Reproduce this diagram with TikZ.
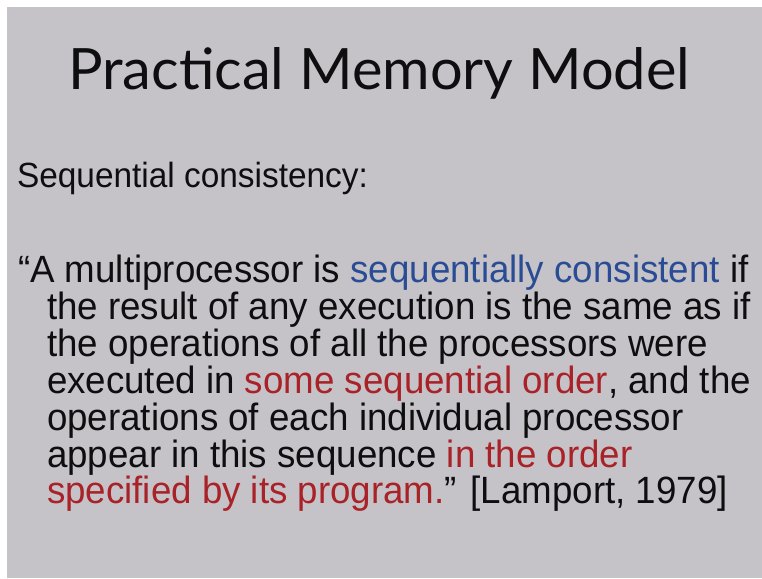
\documentclass[tikz,border=0pt]{standalone}
\usepackage{graphicx}
\usepackage{fontspec}
\setmainfont{Liberation Sans}
\newfontfamily\titlefont{Lato}
\newfontfamily\bodyfont[FakeStretch=0.966]{Liberation Sans}
\definecolor{slidebg}{RGB}{197,195,200}
\definecolor{ink}{RGB}{14,14,16}
\definecolor{qblue}{RGB}{42,76,148}
\definecolor{qred}{RGB}{168,34,40}
\newcommand\fitto[2]{\sbox0{#2}\pgfmathsetmacro\fitsx{#1/\the\wd0}\scalebox{\fitsx}[1]{\usebox0}}
\tikzset{
  txt/.style={anchor=base west, inner sep=0pt, outer sep=0pt, text=ink},
  body/.style={txt, font=\bodyfont\fontsize{38}{40}\selectfont},
}
\begin{document}
\begin{tikzpicture}[x=1pt,y=-1pt]
\useasboundingbox (0,0) rectangle (762,578);
\fill[white] (0,0) rectangle (762,578);
\fill[slidebg] (7,7) rectangle (762,578);
\node[txt, font=\titlefont\fontsize{57}{60}\selectfont] (title) at (68,89) {\fitto{622}{Practical Memory Model}};
\node[txt, font=\bodyfont\fontsize{35}{40}\selectfont] (head) at (17,187) {\fitto{351}{Sequential consistency:}};
\node[body] (l1) at (18,282) {“A multiprocessor is \textcolor{qblue}{sequentially consistent} if};
\node[body] (l2) at (47,319) {the result of any execution is the same as if};
\node[body] (l3) at (47,356) {the operations of all the processors were};
\node[body] (l4) at (47,393) {executed in \textcolor{qred}{some sequential order}, and the};
\node[body] (l5) at (47,430) {operations of each individual processor};
\node[body] (l6) at (47,467) {appear in this sequence \textcolor{qred}{in the order}};
\node[body] (l7) at (47,503) {\textcolor{qred}{specified by its program.}” [Lamport, 1979]};
\end{tikzpicture}
\end{document}
